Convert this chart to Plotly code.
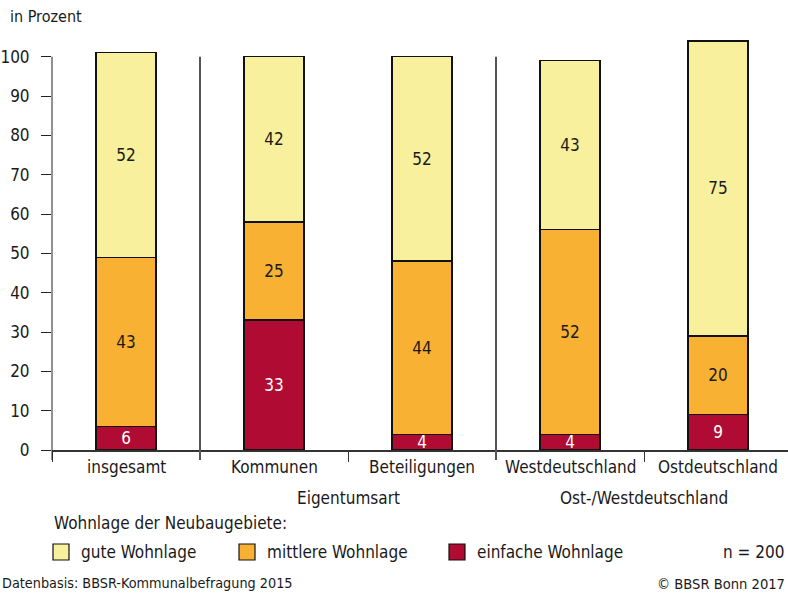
import plotly.graph_objects as go

# Anteile der Wohnlagen von Neubaugebieten, in Prozent
categories = ["insgesamt", "Kommunen", "Beteiligungen", "Westdeutschland", "Ostdeutschland"]
einfache = [6, 33, 4, 4, 9]
mittlere = [43, 25, 44, 52, 20]
gute = [52, 42, 52, 43, 75]

series_names = ["gute Wohnlage", "mittlere Wohnlage", "einfache Wohnlage"]
group_labels = ["Eigentumsart", "Ost-/Westdeutschland"]
y_ticks = list(range(0, 101, 10))

FONT = "Liberation Sans Narrow, DejaVu Sans Condensed, Arial Narrow, sans-serif"
C_GUTE = "#F8F09C"
C_MITTEL = "#F8B133"
C_EINFACH = "#B00B32"
C_TEXT = "#1a1a1a"

W, H = 788, 593
ML, MR, MT, MB = 52, 0, 37, 143
X_RANGE = [-0.5, 4.473]
Y_RANGE = [0, 105]
plot_w = W - ML - MR
plot_h = H - MT - MB

x = list(range(len(categories)))


def xpaper(v):
    return (v - X_RANGE[0]) / (X_RANGE[1] - X_RANGE[0])


def ypaper(v):
    return (v - Y_RANGE[0]) / (Y_RANGE[1] - Y_RANGE[0])


fig = go.Figure()
for vals, color, tcol, name in [
    (einfache, C_EINFACH, "white", series_names[2]),
    (mittlere, C_MITTEL, C_TEXT, series_names[1]),
    (gute, C_GUTE, C_TEXT, series_names[0]),
]:
    fig.add_trace(go.Bar(
        x=x, y=vals, name=name, width=0.405,
        marker=dict(color=color, line=dict(color="#111", width=1.5)),
        text=[str(v) for v in vals], textposition="inside",
        insidetextanchor="middle", textangle=0, constraintext="none",
        textfont=dict(family=FONT, size=17, color=tcol),
        showlegend=False,
    ))

shapes = []
# Y-Achsenlinie von 0 (leicht darunter) bis 100
shapes.append(dict(type="line", xref="paper", yref="paper",
                   x0=0, x1=0, y0=-10 / plot_h, y1=ypaper(100),
                   line=dict(color="#222", width=1)))
# Trennlinien zwischen den Gruppen
for b in [0.5, 2.5]:
    shapes.append(dict(type="line", xref="paper", yref="paper",
                       x0=xpaper(b), x1=xpaper(b), y0=-10 / plot_h, y1=ypaper(100),
                       line=dict(color="#555", width=2)))

# Legende: Kästchen und Beschriftungen
legend_items = [(series_names[0], C_GUTE, 53), (series_names[1], C_MITTEL, 239),
                (series_names[2], C_EINFACH, 449)]
annotations = []
for name, color, px in legend_items:
    shapes.append(dict(type="rect", xref="paper", yref="paper",
                       x0=(px - ML) / plot_w, x1=(px + 16 - ML) / plot_w,
                       y0=(H - MB - 560) / plot_h, y1=(H - MB - 544) / plot_h,
                       fillcolor=color, line=dict(color="#111", width=1.2)))
    annotations.append(dict(xref="paper", yref="paper", x=(px + 26 - ML) / plot_w,
                            y=(H - MB - 552) / plot_h, xanchor="left", yanchor="middle",
                            text=name, showarrow=False,
                            font=dict(family=FONT, size=17, color=C_TEXT)))


def txt(px, py, s, anchor="left", size=17):
    annotations.append(dict(xref="paper", yref="paper", x=(px - ML) / plot_w,
                            y=(H - MB - py) / plot_h, xanchor=anchor, yanchor="middle",
                            text=s, showarrow=False,
                            font=dict(family=FONT, size=size, color=C_TEXT)))


# Kategoriebeschriftungen
for i, c in enumerate(categories):
    annotations.append(dict(xref="x", yref="paper", x=i, y=(H - MB - 467) / plot_h,
                            xanchor="center", yanchor="middle", text=c, showarrow=False,
                            font=dict(family=FONT, size=17, color=C_TEXT)))
# Gruppenbeschriftungen
annotations.append(dict(xref="x", yref="paper", x=1.5, y=(H - MB - 498) / plot_h,
                        xanchor="center", yanchor="middle", text=group_labels[0],
                        showarrow=False, font=dict(family=FONT, size=17, color=C_TEXT)))
annotations.append(dict(xref="x", yref="paper", x=3.5, y=(H - MB - 498) / plot_h,
                        xanchor="center", yanchor="middle", text=group_labels[1],
                        showarrow=False, font=dict(family=FONT, size=17, color=C_TEXT)))

txt(8, 17, "in Prozent", size=16)
txt(52, 523, "Wohnlage der Neubaugebiete:")
txt(786, 552, "n = 200", anchor="right")
txt(0, 583, "Datenbasis: BBSR-Kommunalbefragung 2015", size=14.3)
txt(787, 583, "© BBSR Bonn 2017", anchor="right", size=14.6)

fig.update_layout(
    width=W, height=H,
    margin=dict(l=ML, r=MR, t=MT, b=MB),
    barmode="stack",
    plot_bgcolor="white", paper_bgcolor="white",
    font=dict(family=FONT, size=17, color=C_TEXT),
    shapes=shapes, annotations=annotations,
    xaxis=dict(range=X_RANGE, tickvals=x, ticktext=["" for _ in x], ticks="",
               showgrid=False, zeroline=False, showline=True, linecolor="#333",
               linewidth=1.5,
               minor=dict(tickmode="array", tickvals=[-0.5, 1.5, 3.5], ticks="outside",
                          ticklen=10, tickcolor="#333", tickwidth=1.2, showgrid=False)),
    yaxis=dict(range=Y_RANGE, tickvals=y_ticks, ticks="outside", ticklen=10,
               tickcolor="#222", tickwidth=1, showgrid=False, zeroline=False,
               showline=False, ticklabelstandoff=8,
               tickfont=dict(family=FONT, size=17, color=C_TEXT)),
)

fig.write_html("out.html")
